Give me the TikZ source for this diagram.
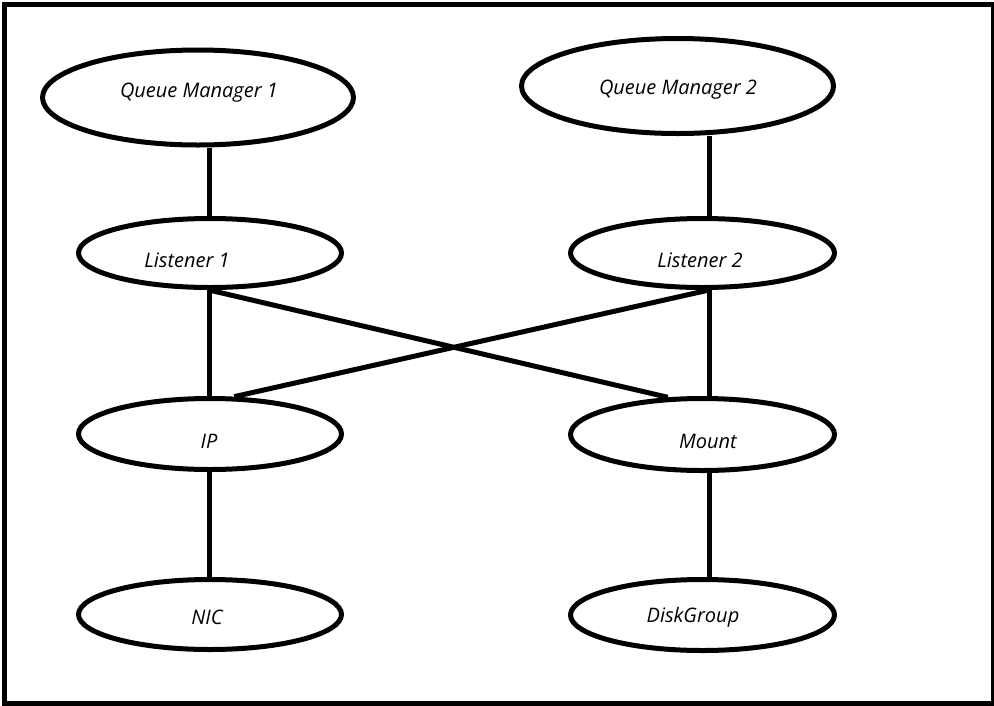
\documentclass[tikz,border=0pt]{standalone}
\usepackage{fontspec}
\setmainfont{Open Sans}
\usetikzlibrary{shapes.geometric}
\tikzset{
  res/.style={draw, ellipse, line width=5pt, inner sep=0pt},
  lbl/.style={font=\itshape\fontsize{20}{24}\selectfont, inner sep=0pt, text=black},
  link/.style={line width=5pt}
}
\begin{document}
\begin{tikzpicture}[x=1pt, y=-1pt]
\useasboundingbox (0,0) rectangle (994,705);
\draw[line width=5pt] (4.5,4.5) rectangle (993.5,703);
% resources
\node[res, minimum width=311pt, minimum height=95pt] (qm1) at (198,97.5) {};
\node[res, minimum width=312pt, minimum height=95pt] (qm2) at (677.5,86) {};
\node[res, minimum width=263pt, minimum height=69pt] (l1) at (210,253) {};
\node[res, minimum width=264pt, minimum height=69pt] (l2) at (702.5,253) {};
\node[res, minimum width=263pt, minimum height=71pt] (ip) at (210,434) {};
\node[res, minimum width=264pt, minimum height=72pt] (mnt) at (702.5,434.5) {};
\node[res, minimum width=263pt, minimum height=70pt] (nic) at (210,614.5) {};
\node[res, minimum width=264pt, minimum height=71pt] (dg) at (702.5,615) {};
% labels
\node[lbl] (tqm1) at (199,93) {Queue Manager 1};
\node[lbl] (tqm2) at (678,90) {Queue Manager 2};
\node[lbl] (tl1) at (187,260) {Listener 1};
\node[lbl] (tl2) at (700,260) {Listener 2};
\node[lbl] (tip) at (209,441) {IP};
\node[lbl] (tmnt) at (708,441) {Mount};
\node[lbl] (tnic) at (207,617) {NIC};
\node[lbl] (tdg) at (693,617) {DiskGroup};
% columns
\coordinate (lc) at (209,0);
\coordinate (rc) at (709,0);
% connectors
\draw[link] (lc |- qm1.south) -- (lc |- l1.north);
\draw[link] (rc |- qm2.south) -- (rc |- l2.north);
\draw[link] (lc |- l1.south) -- (lc |- ip.north);
\draw[link] (rc |- l2.south) -- (rc |- mnt.north);
\draw[link] (lc |- ip.south) -- (lc |- nic.north);
\draw[link] (rc |- mnt.south) -- (rc |- dg.north);
\draw[link] (lc |- l1.south) -- (mnt.133);
\draw[link] (rc |- l2.south) -- (ip.57);
\end{tikzpicture}
\end{document}
